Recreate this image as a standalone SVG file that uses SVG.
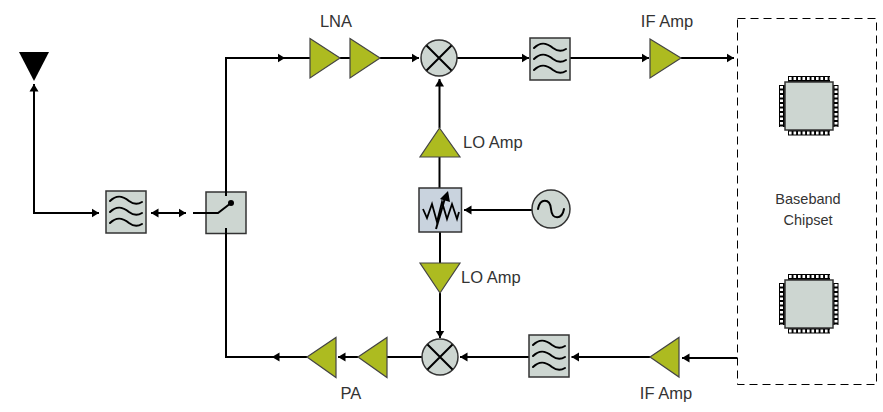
<svg xmlns="http://www.w3.org/2000/svg" width="883" height="412" viewBox="0 0 883 412">
<style>
text{font-family:"Liberation Sans",Arial,sans-serif;font-size:16.500px;fill:#333}
.m{text-anchor:middle}
.bb{font-size:14.500px}
.c{fill:none;stroke:#000;stroke-width:2}
.box{fill:#cdd6d1;stroke:#333;stroke-width:1.500}
.amp{fill:#adbb20;stroke:#444;stroke-width:1.200}
.w{fill:none;stroke:#000;stroke-width:2;stroke-linecap:round}
.pin{fill:none;stroke:#fff;stroke-width:3;stroke-dasharray:2.600 1.900}
</style>
<defs>
<marker id="a" markerUnits="userSpaceOnUse" markerWidth="8" markerHeight="10" refX="7.500" refY="5" orient="auto-start-reverse"><path d="M0 .5L7.500 5L0 9.500Z" fill="#000"/></marker>
<symbol id="f" overflow="visible"><rect class="box" width="40" height="42"/><path class="w" d="M4 10c7-7 13-5 19 0c4 3 8 4 13 1M4 21c7-7 13-5 19 0c4 3 8 4 13 1M4 32c7-7 13-5 19 0c4 3 8 4 13 1"/></symbol>
<symbol id="x" overflow="visible"><circle class="box" r="18" stroke-width="1.200"/><path d="M-12.500-12.500L12.500 12.500M-12.500 12.500L12.500-12.500" stroke="#000" stroke-width="2"/></symbol>
<symbol id="ch" overflow="visible"><path d="M-21-30H21V-24H-21ZM-21 24H21V29.500H-21ZM-30-21H-24V21H-30ZM24-21H29.500V21H24Z" fill="#000"/><path class="pin" d="M-20-27.500H21M-20 27H21M-27.500-20V21M27-20V21"/><rect x="-24" y="-24" width="48" height="48" fill="#cdd6d1" stroke="#333" stroke-width="1.500"/></symbol>
</defs>
<g id="connectors">
<path class="c" marker-start="url(#a)" marker-end="url(#a)" d="M34 84V213H99"/>
<path class="c" marker-start="url(#a)" marker-end="url(#a)" d="M151 213H186"/>
<path class="c" d="M226 196V58H310"/>
<path class="c" marker-end="url(#a)" d="M226 58H285"/>
<path class="c" d="M340 58H350"/>
<path class="c" marker-end="url(#a)" d="M380 58H419"/>
<path class="c" marker-end="url(#a)" d="M457 58H529"/>
<path class="c" marker-end="url(#a)" d="M570 58H649"/>
<path class="c" marker-end="url(#a)" d="M681 58H734"/>
<path class="c" marker-end="url(#a)" d="M439.500 128V79"/>
<path class="c" d="M439.500 157V188"/>
<path class="c" marker-end="url(#a)" d="M532 210H464"/>
<path class="c" d="M440 232V263"/>
<path class="c" marker-end="url(#a)" d="M440 293V338"/>
<path class="c" d="M226 228V357H307"/>
<path class="c" marker-end="url(#a)" d="M307 357H272"/>
<path class="c" marker-end="url(#a)" d="M358 357H338"/>
<path class="c" d="M387 357H422"/>
<path class="c" marker-end="url(#a)" d="M529 357H460"/>
<path class="c" marker-end="url(#a)" d="M650 357H571.500"/>
<path class="c" marker-end="url(#a)" d="M737 358H682"/>
</g>
<g id="antenna"><path d="M19 52H49L34 81Z" fill="#000"/></g>
<g id="filter-rx-ant"><use href="#f" x="106" y="191"/></g>
<g id="switch"><rect class="box" x="206" y="192" width="40" height="41.500"/><path class="c" d="M193 213H218L231 203"/><circle cx="231" cy="203" r="3" fill="#000"/><path class="c" d="M226 185V196M226 228V240"/></g>
<g id="lna1"><path class="amp" d="M310 38.500L340 58L310 78Z"/></g>
<g id="lna2"><path class="amp" d="M350 38.500L380 58L350 78Z"/></g>
<g id="mixer-top"><use href="#x" x="439" y="58"/></g>
<g id="filter-top"><use href="#f" x="530" y="38"/></g>
<g id="if-amp-top"><path class="amp" d="M650 39L681 58L650 78Z"/></g>
<g id="lo-amp-top"><path class="amp" d="M439.500 128L460 157H420Z"/></g>
<g id="attenuator"><rect x="419" y="188" width="42.500" height="44" fill="#c9d3de" stroke="#333" stroke-width="1.500"/><path d="M423 209L427 218L432 204L437 222L442 202L447 219L452 204L457 219L459 212" fill="none" stroke="#000" stroke-width="1.800"/><path class="c" d="M436 229L445 198"/><path d="M440 199L448 191L450 202Z" fill="#000"/></g>
<g id="oscillator"><circle class="box" cx="551" cy="209" r="19" stroke-width="1.200"/><path class="w" d="M538 209c2-11 12-11 13 0c1 11 11 11 13 0"/></g>
<g id="lo-amp-bottom"><path class="amp" d="M420 263H460L440 293Z"/></g>
<g id="mixer-bottom"><use href="#x" x="440" y="357"/></g>
<g id="filter-bottom"><use href="#f" x="529" y="335"/></g>
<g id="pa1"><path class="amp" d="M307 357L336 337.500V377.500Z"/></g>
<g id="pa2"><path class="amp" d="M358 357L387 337.500V377.500Z"/></g>
<g id="if-amp-bottom"><path class="amp" d="M650 357L679 337.500V377Z"/></g>
<g id="baseband"><rect x="737.500" y="18.500" width="139" height="366" fill="none" stroke="#000" stroke-width="1" stroke-dasharray="8 5"/></g>
<g id="chip-top"><use href="#ch" x="809" y="106"/></g>
<g id="chip-bottom"><use href="#ch" x="809" y="304"/></g>
<g id="labels">
<text class="m" x="336" y="27">LNA</text>
<text class="m" x="667" y="27">IF Amp</text>
<text x="463" y="148">LO Amp</text>
<text x="461" y="283">LO Amp</text>
<text class="m bb" x="808" y="204">Baseband</text>
<text class="m bb" x="808" y="225">Chipset</text>
<text class="m" x="351" y="399">PA</text>
<text class="m" x="666" y="399">IF Amp</text>
</g>
</svg>
